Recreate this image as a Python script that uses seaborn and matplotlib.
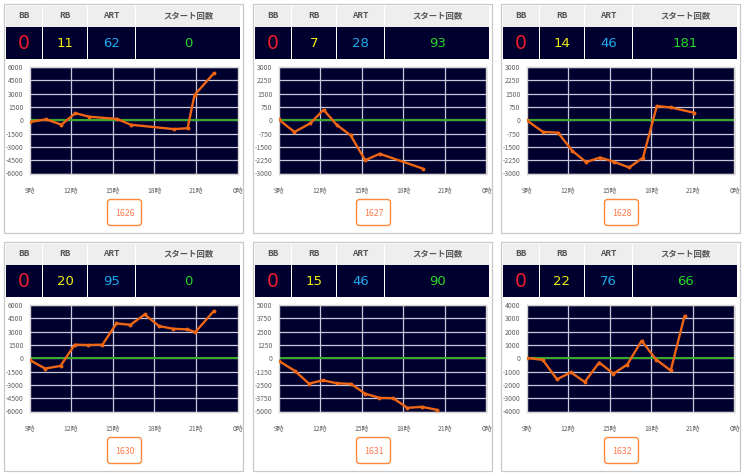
import numpy as np
import pandas as pd
import matplotlib
matplotlib.use('Agg')
import matplotlib.pyplot as plt
from matplotlib.patches import Rectangle, FancyBboxPatch
import seaborn as sns

# ---------------- data ----------------
machine_ids = ['1626', '1627', '1628', '1630', '1631', '1632']
bb_counts = [0, 0, 0, 0, 0, 0]
rb_counts = [11, 7, 14, 20, 15, 22]
art_counts = [62, 28, 46, 95, 46, 76]
start_counts = [0, 93, 181, 0, 90, 66]
header_labels = ['BB', 'RB', 'ART', 'スタート回数']

y_limits = [6000, 3000, 3000, 6000, 5000, 4000]
y_steps = [1500, 750, 750, 1500, 1250, 1000]

x_tick_pos = [9, 12, 15, 18, 21, 24]
x_tick_labels = ['9時', '12時', '15時', '18時', '21時', '0時']

hours_1626 = [9.0, 10.2, 11.3, 12.3, 13.3, 15.3, 16.3, 19.4, 20.4, 20.9, 22.3]
diff_1626 = [-200, 100, -500, 800, 400, 150, -500, -1000, -900, 2850, 5300]

hours_1627 = [9.0, 10.15, 11.3, 12.25, 13.2, 14.2, 15.25, 16.3, 19.4]
diff_1627 = [50, -660, -170, 590, -260, -850, -2250, -1890, -2720]

hours_1628 = [9.0, 10.2, 11.27, 12.3, 13.3, 14.3, 15.3, 16.4, 17.4, 18.4, 19.4, 21.05]
diff_1628 = [0, -660, -700, -1720, -2360, -2100, -2340, -2660, -2110, 800, 720, 430]

hours_1630 = [9.0, 10.13, 11.24, 12.26, 13.25, 14.26, 15.27, 16.28, 17.3, 18.35, 19.37, 20.38, 20.96, 22.3]
diff_1630 = [-190, -1160, -860, 1530, 1490, 1530, 3920, 3770, 4930, 3620, 3320, 3250, 2950, 5340]

hours_1631 = [9.0, 10.16, 11.2, 12.2, 13.2, 14.23, 15.24, 16.28, 17.27, 18.3, 19.35, 20.4]
diff_1631 = [-230, -1170, -2380, -2070, -2350, -2410, -3320, -3720, -3750, -4660, -4560, -4840]

hours_1632 = [9.0, 10.17, 11.2, 12.2, 13.2, 14.24, 15.27, 16.27, 17.3, 18.35, 19.4, 20.4]
diff_1632 = [25, -120, -1580, -1060, -1780, -320, -1160, -470, 1310, -100, -920, 3190]

series_hours = [hours_1626, hours_1627, hours_1628, hours_1630, hours_1631, hours_1632]
series_diff = [diff_1626, diff_1627, diff_1628, diff_1630, diff_1631, diff_1632]

# ---------------- layout / style ----------------
W, H = 745, 476
card_x = [4, 253, 501]
card_y = [4, 242]
CARD_W, CARD_H = 239, 229
col_edges = [2, 38.5, 83.5, 131.5, 237]   # relative to card
NAVY = '#00002e'
value_colors = ['#ee1c2e', '#f2ee10', '#1ea8ee', '#28d62a']

sns.set_style('white')
plt.rcParams['font.family'] = ['Noto Sans CJK JP', 'DejaVu Sans']

fig = plt.figure(figsize=(W / 100, H / 100), dpi=100)
fig.patch.set_facecolor('white')
bg = fig.add_axes([0, 0, 1, 1])
bg.set_xlim(0, W)
bg.set_ylim(H, 0)
bg.axis('off')
bg.set_zorder(0)


def px_axes(x, y, w, h):
    return fig.add_axes([x / W, 1 - (y + h) / H, w / W, h / H])


for i in range(6):
    cx = card_x[i % 3]
    cy = card_y[i // 3]
    # card border
    bg.add_patch(Rectangle((cx, cy), CARD_W, CARD_H, facecolor='white',
                           edgecolor='#c8c8c8', lw=0.9))
    vals = [bb_counts[i], rb_counts[i], art_counts[i], start_counts[i]]
    for c in range(4):
        x0 = cx + col_edges[c] + (0.6 if c > 0 else 0)
        x1 = cx + col_edges[c + 1] - 0.6
        bg.add_patch(Rectangle((x0, cy + 2), x1 - x0, 20.5, facecolor='#eeeeee',
                               edgecolor='none'))
        bg.add_patch(Rectangle((x0, cy + 23.2), x1 - x0, 32, facecolor=NAVY,
                               edgecolor='none'))
        xm = (x0 + x1) / 2
        bg.text(xm, cy + 12, header_labels[c], ha='center', va='center',
                fontsize=6.0, fontweight='bold', color='#555555')
        bg.text(xm, cy + 39.5, str(vals[c]), ha='center', va='center',
                fontsize=13.5 if c == 0 else 9.5, color=value_colors[c],
                family=['DejaVu Sans'])
    # button
    bx, by = cx + 103.5, cy + 195.5
    bg.add_patch(FancyBboxPatch((bx, by), 34, 26, boxstyle='round,pad=0,rounding_size=3',
                                facecolor='white', edgecolor='#ff8a3c', lw=1.0))
    bg.text(bx + 17, by + 13.5, machine_ids[i], ha='center', va='center',
            fontsize=6.3, color='#ff7a4e')

    # plot shadow
    bg.add_patch(Rectangle((cx + 27, cy + 64.5), 208, 106.5, facecolor='#e4e4e4',
                           edgecolor='none'))
    # chart
    ax = px_axes(cx + 25.5, cy + 63, 208, 106.5)
    ax.set_facecolor(NAVY)
    lim = y_limits[i]
    step = y_steps[i]
    yt = np.arange(-lim, lim + 1, step)
    for yv in yt:
        ax.axhline(yv, color='#c8c8d8', lw=0.9, zorder=1)
    for xv in x_tick_pos[1:-1]:
        ax.axvline(xv, color='#c8c8d8', lw=0.9, zorder=1)
    ax.axhline(0, color='#3aa82a', lw=1.5, zorder=2)
    df = pd.DataFrame({'hour': series_hours[i], 'diff': series_diff[i]})
    sns.lineplot(data=df, x='hour', y='diff', ax=ax, color='#ee6614', lw=1.7,
                 marker='o', markersize=2.8, markeredgewidth=0, zorder=3,
                 estimator=None, sort=False)
    ax.set_xlim(9, 24)
    ax.set_ylim(-lim, lim)
    ax.set_xticks(x_tick_pos)
    ax.set_xticklabels(x_tick_labels)
    ax.set_yticks(yt)
    ax.set_yticklabels([str(int(v)) for v in yt])
    ax.tick_params(axis='both', length=2.5, width=0.6, color='#c0c0c0',
                   labelsize=4.9, labelcolor='#606060')
    ax.tick_params(axis='y', pad=2)
    ax.tick_params(axis='x', pad=7)
    ax.set_xlabel('')
    ax.set_ylabel('')
    for s in ax.spines.values():
        s.set_color('#d4d4d4')
        s.set_linewidth(1.0)

fig.savefig('out.png', dpi=100, facecolor='white')
